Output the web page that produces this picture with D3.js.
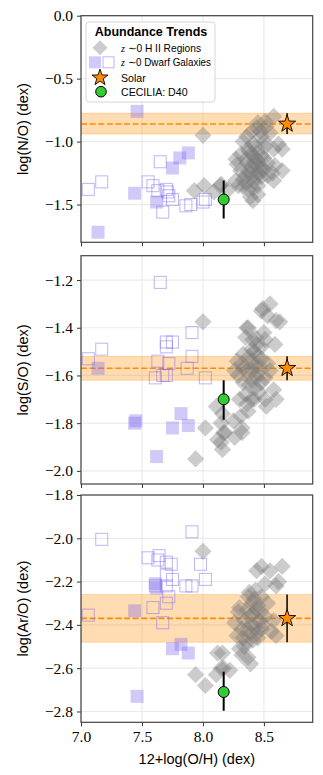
<!DOCTYPE html>
<html>
<head>
<meta charset="utf-8">
<script src="https://cdn.jsdelivr.net/npm/d3@7"></script>
<style>
  body { margin: 0; background: #fff; }
  text { font-family: "Liberation Sans", sans-serif; }
  .tick text { font-family: "Liberation Serif", serif; font-size: 15.5px; fill: #000; }
</style>
</head>
<body>
<svg id="chart" width="323" height="775"></svg>
<script>
// x axis: 12+log(O/H)
const xTicks = [7.0, 7.5, 8.0, 8.5];

// z~0 H II regions  [12+log(O/H), log(X/O)]
const hiiNO = [[8.00,-0.95],[8.01,-1.35],[7.93,-1.39],[8.09,-1.40],[8.14,-1.35],[8.15,-1.34],[8.21,-1.38],
  [8.58,-0.80],[8.51,-0.84],[8.45,-0.85],[8.44,-0.89],[8.40,-0.92],[8.36,-0.96],[8.33,-1.00],[8.48,-0.96],
  [8.55,-0.93],[8.62,-1.02],[8.65,-1.06],[8.58,-1.06],[8.51,-1.04],[8.43,-1.04],[8.37,-1.06],[8.31,-1.10],
  [8.27,-1.14],[8.28,-1.18],[8.35,-1.14],[8.43,-1.13],[8.48,-1.11],[8.53,-1.17],[8.59,-1.19],[8.65,-1.23],
  [8.57,-1.25],[8.48,-1.21],[8.43,-1.19],[8.37,-1.23],[8.31,-1.23],[8.33,-1.30],[8.40,-1.28],[8.48,-1.28],
  [8.53,-1.27],[8.58,-1.31],[8.45,-1.35],[8.37,-1.38],[8.29,-1.35],[8.27,-1.31],[8.45,-1.42],[8.39,-1.44],
  [8.41,-1.47],[8.40,-1.10],[8.45,-1.15],[8.40,-1.20],[8.46,-1.25],[8.42,-1.32],[8.35,-1.33],[8.50,-1.00],
  [8.41,-1.02],[8.38,-1.08],[8.44,-1.09],[8.50,-1.13],[8.36,-1.17],[8.42,-1.16],[8.46,-1.20],[8.39,-1.25],
  [8.44,-1.28],[8.35,-1.27],[8.50,-1.22],[8.41,-1.37],[8.33,-1.36],[8.47,-0.92],[8.52,-0.88]];
const hiiSO = [[8.00,-1.375],[8.02,-1.82],[7.94,-1.95],[8.11,-1.73],[8.16,-1.76],[8.15,-1.80],[8.12,-1.87],
  [8.17,-1.84],[8.16,-1.91],[8.49,-1.32],[8.55,-1.30],[8.63,-1.375],[8.36,-1.40],[8.48,-1.33],[8.60,-1.37],
  [8.53,-1.35],[8.37,-1.40],[8.35,-1.44],[8.43,-1.44],[8.51,-1.45],[8.59,-1.47],[8.48,-1.48],[8.40,-1.49],
  [8.33,-1.51],[8.28,-1.54],[8.32,-1.55],[8.40,-1.54],[8.48,-1.53],[8.53,-1.55],[8.43,-1.56],[8.36,-1.58],
  [8.45,-1.59],[8.51,-1.61],[8.40,-1.62],[8.33,-1.63],[8.48,-1.63],[8.43,-1.65],[8.58,-1.66],[8.60,-1.70],
  [8.35,-1.68],[8.30,-1.70],[8.40,-1.70],[8.51,-1.70],[8.52,-1.73],[8.37,-1.75],[8.31,-1.77],[8.25,-1.79],
  [8.32,-1.82],[8.26,-1.86],[8.18,-1.84],[8.15,-1.88],[8.32,-1.84],[8.26,-1.58],[8.29,-1.60],[8.55,-1.58],
  [8.45,-1.52],[8.38,-1.52],[8.42,-1.50],[8.46,-1.56],[8.40,-1.58],[8.44,-1.61],[8.38,-1.64],[8.46,-1.67],
  [8.42,-1.70],[8.36,-1.72],[8.44,-1.47],[8.50,-1.42],[8.33,-1.57],[8.41,-1.45]];
const hiiArO = [[8.00,-2.06],[7.94,-2.63],[8.02,-2.68],[8.12,-2.53],[8.16,-2.53],[8.15,-2.60],[8.17,-2.60],
  [8.11,-2.63],[8.48,-2.13],[8.65,-2.13],[8.55,-2.15],[8.44,-2.15],[8.60,-2.22],[8.51,-2.21],[8.43,-2.24],
  [8.37,-2.27],[8.48,-2.27],[8.53,-2.30],[8.45,-2.31],[8.36,-2.33],[8.29,-2.34],[8.41,-2.35],[8.51,-2.36],
  [8.58,-2.38],[8.34,-2.38],[8.26,-2.39],[8.43,-2.41],[8.32,-2.42],[8.48,-2.42],[8.56,-2.43],[8.39,-2.44],
  [8.28,-2.45],[8.45,-2.46],[8.60,-2.45],[8.36,-2.48],[8.30,-2.51],[8.37,-2.55],[8.32,-2.54],[8.39,-2.58],
  [8.22,-2.61],[8.62,-2.20],[8.30,-2.32],[8.40,-2.30],[8.44,-2.33],[8.38,-2.36],[8.46,-2.38],[8.40,-2.40],
  [8.36,-2.42],[8.44,-2.44],[8.41,-2.47],[8.34,-2.50],[8.47,-2.34],[8.42,-2.28],[8.38,-2.25],[8.33,-2.46],
  [8.49,-2.40]];

// z~0 dwarf galaxies, open and filled squares
const dwarfOpenNO = [[7.06,-1.38],[7.17,-1.32],[7.65,-1.16],[7.55,-1.32],[7.59,-1.35],[7.70,-1.38],[7.71,-1.40],
  [7.72,-1.43],[7.75,-1.46],[7.67,-1.56],[7.86,-1.51],[7.90,-1.50],[8.00,-1.48],[8.02,-1.46],[7.63,-1.39]];
const dwarfFilledNO = [[7.46,-0.76],[7.88,-1.09],[7.81,-1.13],[7.75,-1.21],[7.44,-1.41],[7.62,-1.48],[7.14,-1.72]];
const dwarfOpenSO = [[7.65,-1.21],[7.17,-1.49],[7.06,-1.53],[7.70,-1.46],[7.70,-1.48],[7.75,-1.46],[7.91,-1.42],
  [7.91,-1.52],[7.63,-1.54],[7.72,-1.55],[7.87,-1.57],[7.61,-1.61],[7.67,-1.60],[7.70,-1.60],[8.02,-1.61]];
const dwarfFilledSO = [[7.14,-1.57],[7.45,-1.79],[7.44,-1.80],[7.82,-1.76],[7.75,-1.82],[7.88,-1.81],[7.62,-1.94]];
const dwarfOpenArO = [[7.17,-2.005],[7.91,-1.97],[7.55,-2.09],[7.64,-2.08],[7.63,-2.10],[7.70,-2.11],[7.74,-2.12],
  [7.98,-2.12],[7.70,-2.17],[7.75,-2.19],[7.61,-2.22],[7.70,-2.22],[7.86,-2.22],[7.91,-2.22],[8.02,-2.19],
  [7.72,-2.27],[7.70,-2.30],[7.59,-2.32],[7.06,-2.355],[7.67,-2.39]];
const dwarfFilledArO = [[7.44,-2.335],[7.61,-2.21],[7.62,-2.23],[7.82,-2.49],[7.75,-2.51],[7.88,-2.53],[7.46,-2.73]];

// solar and CECILIA D40 (N/O, S/O, Ar/O)
const solarOH = 8.69;
const solarRatio = [-0.86, -1.57, -2.37];
const solarLo = [-0.94, -1.62, -2.48];
const solarHi = [-0.774, -1.52, -2.26];
const d40OH = 8.17;
const d40Ratio = [-1.46, -1.70, -2.71];
const d40Lo = [-1.61, -1.786, -2.797];
const d40Hi = [-1.31, -1.62, -2.616];

const yLabels = ["log(N/O) (dex)", "log(S/O) (dex)", "log(Ar/O) (dex)"];
const yTicks = [[0.0, -0.5, -1.0, -1.5], [-1.2, -1.4, -1.6, -1.8, -2.0], [-1.8, -2.0, -2.2, -2.4, -2.6, -2.8]];
const yDomains = [[-1.8, 0.0], [-2.055, -1.098], [-2.85, -1.8]];

const hii = [hiiNO, hiiSO, hiiArO];
const dOpen = [dwarfOpenNO, dwarfOpenSO, dwarfOpenArO];
const dFilled = [dwarfFilledNO, dwarfFilledSO, dwarfFilledArO];

const svg = d3.select("#chart");
const left = 81, right = 312.7;
const tops = [15.7, 255.7, 495], bottoms = [242.3, 484, 722.3];

const x = d3.scaleLinear().domain([7.0, 8.9]).range([left, right]);

const orange = "#ff8c00", purple = "#7b68ee";

function starPath(r) {
  const pts = [];
  for (let i = 0; i < 10; i++) {
    const a = -Math.PI / 2 + i * Math.PI / 5;
    const rr = i % 2 ? r * 0.4 : r;
    pts.push([rr * Math.cos(a), rr * Math.sin(a)]);
  }
  return "M" + pts.join("L") + "Z";
}
const diamond = s => `M0,${-s}L${s},0L0,${s}L${-s},0Z`;

for (let k = 0; k < 3; k++) {
  const y = d3.scaleLinear().domain(yDomains[k]).range([bottoms[k], tops[k]]);
  const g = svg.append("g");

  g.append("clipPath").attr("id", "clip" + k)
    .append("rect").attr("x", left).attr("y", tops[k]).attr("width", right - left).attr("height", bottoms[k] - tops[k]);

  // grid
  g.append("g").selectAll("line").data(xTicks).join("line")
    .attr("x1", d => x(d)).attr("x2", d => x(d)).attr("y1", tops[k]).attr("y2", bottoms[k])
    .attr("stroke", "#ebebeb").attr("stroke-width", 1.2);
  g.append("g").selectAll("line").data(yTicks[k]).join("line")
    .attr("x1", left).attr("x2", right).attr("y1", d => y(d)).attr("y2", d => y(d))
    .attr("stroke", "#ebebeb").attr("stroke-width", 1.2);

  const body = g.append("g").attr("clip-path", `url(#clip${k})`);

  // solar band and dashed line
  body.append("rect").attr("x", left).attr("width", right - left)
    .attr("y", y(solarHi[k])).attr("height", y(solarLo[k]) - y(solarHi[k]))
    .attr("fill", orange).attr("fill-opacity", 0.3)
    .attr("stroke", orange).attr("stroke-opacity", 0.35).attr("stroke-width", 0.8);
  body.append("line").attr("x1", left).attr("x2", right)
    .attr("y1", y(solarRatio[k])).attr("y2", y(solarRatio[k]))
    .attr("stroke", orange).attr("stroke-width", 1.6).attr("stroke-dasharray", "6,2.6");

  // dwarf galaxies
  body.append("g").selectAll("rect").data(dFilled[k]).join("rect")
    .attr("x", d => x(d[0]) - 6.5).attr("y", d => y(d[1]) - 6.5).attr("width", 13).attr("height", 13)
    .attr("fill", purple).attr("fill-opacity", 0.35);
  body.append("g").selectAll("rect").data(dOpen[k]).join("rect")
    .attr("x", d => x(d[0]) - 6).attr("y", d => y(d[1]) - 6).attr("width", 12).attr("height", 12)
    .attr("fill", "none").attr("stroke", purple).attr("stroke-opacity", 0.45).attr("stroke-width", 1.1);

  // H II regions
  body.append("g").selectAll("path").data(hii[k]).join("path")
    .attr("transform", d => `translate(${x(d[0])},${y(d[1])})`)
    .attr("d", diamond(8.6)).attr("fill", "#7a7a7a").attr("fill-opacity", 0.38);

  // solar star with error bar
  body.append("line").attr("x1", x(solarOH)).attr("x2", x(solarOH))
    .attr("y1", y(solarLo[k])).attr("y2", y(solarHi[k])).attr("stroke", "#000").attr("stroke-width", 1.5);
  body.append("path").attr("transform", `translate(${x(solarOH)},${y(solarRatio[k])})`)
    .attr("d", starPath(9)).attr("fill", orange).attr("stroke", "#000").attr("stroke-width", 0.9);

  // CECILIA D40
  body.append("line").attr("x1", x(d40OH)).attr("x2", x(d40OH))
    .attr("y1", y(d40Lo[k])).attr("y2", y(d40Hi[k])).attr("stroke", "#000").attr("stroke-width", 2);
  body.append("circle").attr("cx", x(d40OH)).attr("cy", y(d40Ratio[k])).attr("r", 5.5)
    .attr("fill", "#32cd32").attr("stroke", "#000").attr("stroke-width", 1);

  // axes
  const ya = g.append("g").attr("transform", `translate(${left},0)`)
    .call(d3.axisLeft(y).tickValues(yTicks[k]).tickFormat(d3.format(".1f")).tickSize(4).tickPadding(4));
  const xa = g.append("g").attr("transform", `translate(0,${bottoms[k]})`)
    .call(d3.axisBottom(x).tickValues(xTicks).tickFormat(k === 2 ? d3.format(".1f") : "").tickSize(4).tickPadding(5));
  [ya, xa].forEach(a => {
    a.select(".domain").remove();
    a.selectAll(".tick line").attr("stroke", "#333").attr("stroke-width", 1);
  });

  g.append("rect").attr("x", left).attr("y", tops[k]).attr("width", right - left).attr("height", bottoms[k] - tops[k])
    .attr("fill", "none").attr("stroke", "#444").attr("stroke-width", 1.2);

  g.append("text").attr("transform", `translate(28,${(tops[k] + bottoms[k]) / 2}) rotate(-90)`)
    .attr("text-anchor", "middle").attr("font-size", 14.5).text(yLabels[k]);
}

svg.append("text").attr("x", (left + right) / 2).attr("y", 764).attr("text-anchor", "middle")
  .attr("font-size", 14.5).text("12+log(O/H) (dex)");

// legend
const lg = svg.append("g");
lg.append("rect").attr("x", 86).attr("y", 22).attr("width", 129).attr("height", 80).attr("rx", 3)
  .attr("fill", "#fff").attr("fill-opacity", 0.85).attr("stroke", "#cccccc").attr("stroke-width", 0.8);
lg.append("text").attr("x", 151).attr("y", 36).attr("text-anchor", "middle")
  .attr("font-size", 12.5).attr("font-weight", "bold").text("Abundance Trends");
lg.append("path").attr("transform", "translate(100,47.7)").attr("d", diamond(7.5))
  .attr("fill", "#7a7a7a").attr("fill-opacity", 0.38);
lg.append("rect").attr("x", 89).attr("y", 56.3).attr("width", 12).attr("height", 12)
  .attr("fill", purple).attr("fill-opacity", 0.35);
lg.append("rect").attr("x", 103).attr("y", 56.8).attr("width", 11).attr("height", 11)
  .attr("fill", "none").attr("stroke", purple).attr("stroke-opacity", 0.45).attr("stroke-width", 1.1);
lg.append("path").attr("transform", "translate(100,77.7)").attr("d", starPath(8.5))
  .attr("fill", orange).attr("stroke", "#000").attr("stroke-width", 0.9);
lg.append("circle").attr("cx", 101).attr("cy", 91.7).attr("r", 5.3)
  .attr("fill", "#32cd32").attr("stroke", "#000").attr("stroke-width", 1);

const entries = [["H II Regions", 51.5, 80], ["Dwarf Galaxies", 66.1, 90], ["", 81.6, 0], ["", 95.6, 0]];
entries.forEach(([t, yy, w], i) => {
  const tx = lg.append("text").attr("x", 121).attr("y", yy).attr("font-size", 10.6);
  if (i < 2) {
    tx.attr("textLength", w).attr("lengthAdjust", "spacingAndGlyphs");
    tx.append("tspan").attr("font-family", "Liberation Serif").attr("font-style", "italic").text("z");
    tx.append("tspan").text(" \u223C0 " + t);
  } else {
    tx.text(i === 2 ? "Solar" : "CECILIA: D40");
  }
});
</script>
</body>
</html>
